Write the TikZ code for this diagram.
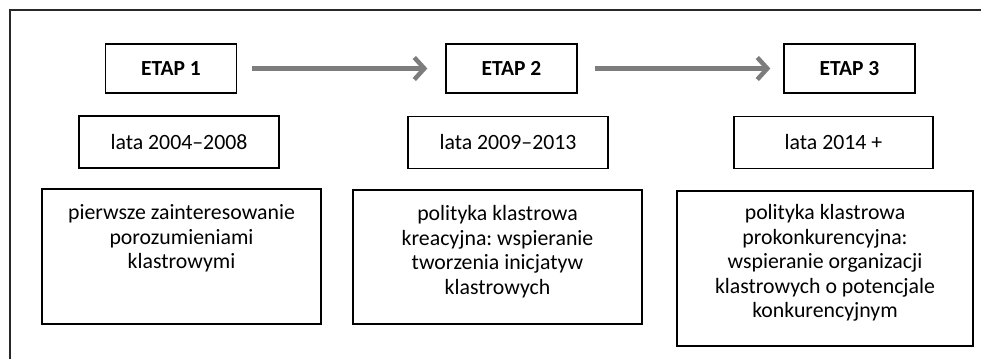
\documentclass[tikz,border=0pt]{standalone}
\usepackage{fontspec}
\setmainfont{Carlito}
\usepackage{xcolor}
\usepackage{tikz}
\usetikzlibrary{arrows.meta}
\frenchspacing

\definecolor{strzalka}{RGB}{125,125,125}
\definecolor{ramka}{RGB}{40,40,40}

\tikzset{
  etapbox/.style={draw, line width=1.3pt, minimum width=131pt, minimum height=49pt,
    font=\fontsize{21.5}{25}\selectfont\bfseries},
  latabox/.style={draw, line width=1.1pt, minimum width=200pt, minimum height=52pt,
    font=\fontsize{21.8}{25}\selectfont},
  opisbox/.style={draw, line width=1.1pt, inner sep=0pt},
  opistext/.style={anchor=north, align=center, inner sep=0pt,
    font=\fontsize{21.8}{24.5}\selectfont},
  krok/.style={draw=strzalka, line width=4.5pt,
    -{Straight Barb[length=10pt,width=22pt]}}
}

\begin{document}
\begin{tikzpicture}[x=1pt, y=-1pt]
      \useasboundingbox (0,0) rectangle (981,359);
      % ramka
      \draw [ramka, line width=2pt] (10,359) -- (10,10) -- (981,10);

      % etapy
      \node [etapbox] (e1) at (171,68.5) {ETAP 1};
      \node [etapbox] (e2) at (511.5,68.5) {ETAP 2};
      \node [etapbox] (e3) at (849.5,68.5) {ETAP 3};
      \draw [krok, shorten <=15pt, shorten >=18pt] (e1) -- (e2);
      \draw [krok, shorten <=17pt, shorten >=13pt] (e2) -- (e3);

      % lata
      \node [latabox] (l1) at (179,142) {lata 2004--2008};
      \node [latabox] (l2) at (508,142.5) {lata 2009--2013};
      \node [latabox, minimum width=199pt] (l3) at (833.5,142.5) {lata 2014 +};

      % opisy
      \node [opisbox, minimum width=279pt, minimum height=135pt] (d1) at (181.5,256.5) {};
      \node [opisbox, minimum width=289pt, minimum height=134pt] (d2) at (497.5,257) {};
      \node [opisbox, minimum width=296pt, minimum height=155pt] (d3) at (825,268.5) {};
      \node [opistext] (t1) at ([yshift=-16pt]d1.north) {pierwsze zainteresowanie\\porozumieniami\\klastrowymi};
      \node [opistext] (t2) at ([yshift=-16pt]d2.north) {polityka klastrowa\\kreacyjna: wspieranie\\tworzenia inicjatyw\\klastrowych};
      \node [opistext] (t3) at ([yshift=-14pt]d3.north) {polityka klastrowa\\prokonkurencyjna:\\wspieranie organizacji\\klastrowych o potencjale\\konkurencyjnym};
\end{tikzpicture}
\end{document}
